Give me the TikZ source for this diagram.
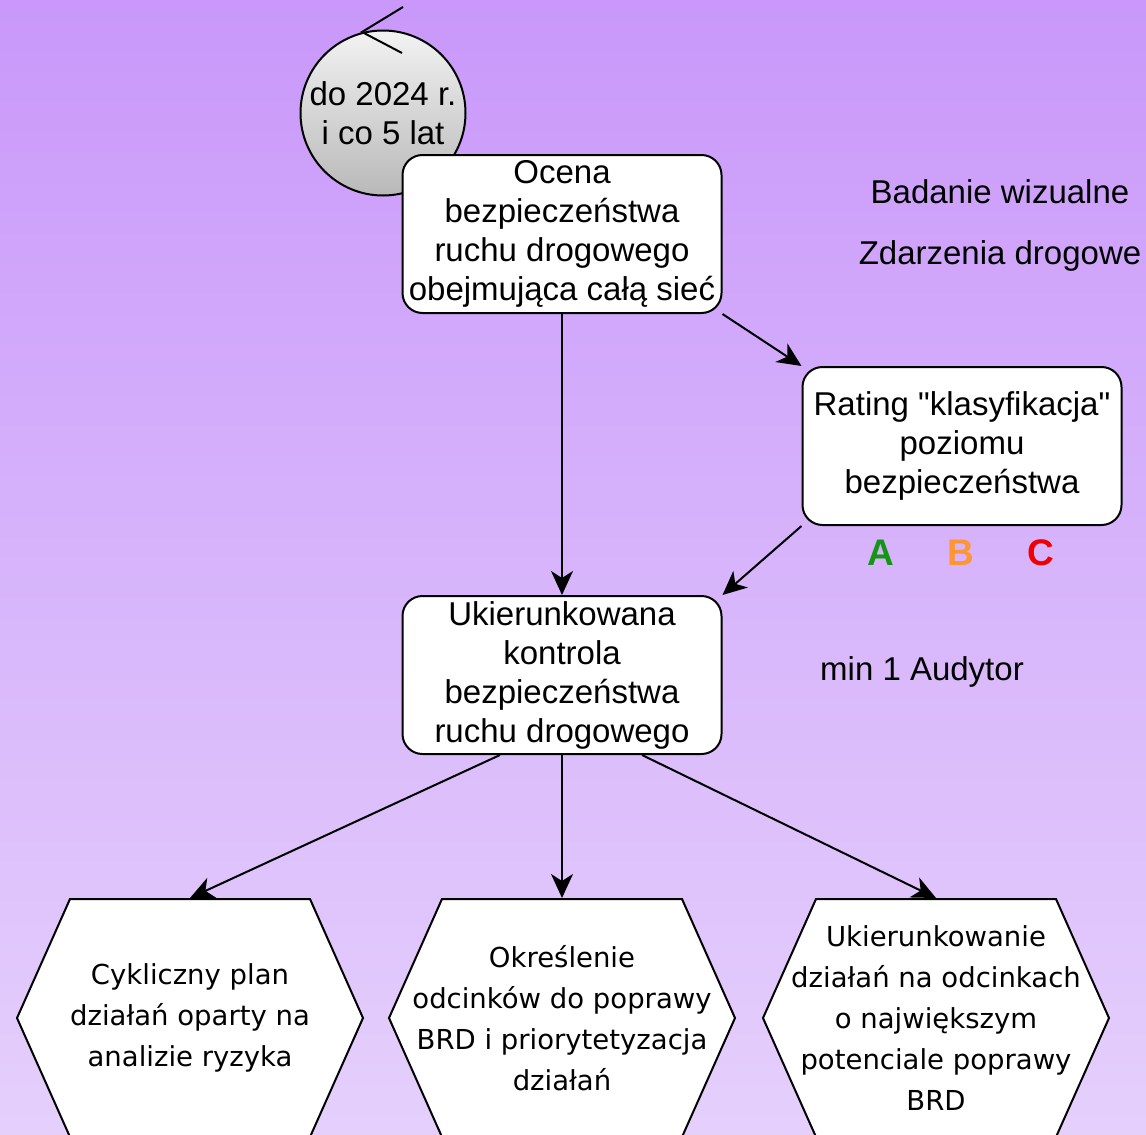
\documentclass[tikz,border=0pt]{standalone}
\usepackage{fontspec}
\setmainfont{Liberation Sans}
\newfontfamily\hexfont{DejaVu Sans}
\usetikzlibrary{arrows.meta,positioning}
\definecolor{bgtop}{RGB}{201,152,250}
\definecolor{bgbottom}{RGB}{229,208,252}
\definecolor{gradeA}{RGB}{20,150,20}
\definecolor{gradeB}{RGB}{255,150,50}
\definecolor{gradeC}{RGB}{240,0,0}

\begin{document}
\begin{tikzpicture}[x=1pt,y=-1pt,node distance=81pt,>={Stealth[length=24pt,width=22pt,inset=7pt]},line width=2pt]
    \tikzstyle{box}=[rectangle,draw,fill=white,rounded corners=20pt,align=center,minimum width=319pt,minimum height=158pt,inner sep=0pt,font=\fontsize{33}{39}\selectfont]
    \tikzstyle{hexbox}=[align=center,minimum width=346pt,minimum height=238pt,inner sep=0pt,font=\hexfont\fontsize{27.5}{41}\selectfont]
    \tikzstyle{note}=[font=\fontsize{33}{39}\selectfont]
    \tikzstyle{grade}=[font=\bfseries\fontsize{37}{40}\selectfont]
    \useasboundingbox (0,0) rectangle (1146,1135);
    \shade[top color=bgtop,bottom color=bgbottom] (0,0) rectangle (1146,1135);
    % cycle marker
    \node[circle,draw,top color=gray!10,bottom color=gray!55,minimum size=165pt,inner sep=0pt,align=center,font=\fontsize{33}{39}\selectfont] (termin) at (383,113) {do 2024 r.\\i co 5 lat};
    \draw ([shift={(20,-106)}]termin.center) -- ++(-41,25) -- ++(40,21);
    \node[box] (ocena) at (562,234) {Ocena\\bezpieczeństwa\\ruchu drogowego\\obejmująca całą sieć};
    \node[box] (rating) at (962,446) {Rating \textquotedbl klasyfikacja\textquotedbl\\poziomu\\bezpieczeństwa};
    \node[box,below=281pt of ocena] (kontrola) {Ukierunkowana\\kontrola\\bezpieczeństwa\\ruchu drogowego};
    \node[note] (wizualne) at (1000,192) {Badanie wizualne};
    \node[note] (zdarzenia) at (1000,256) {Zdarzenia drogowe};
    \node[note] (audytor) at (922,672) {min 1 Audytor};
    \node[grade,text=gradeA] (klasaA) at (881,553) {A};
    \node[grade,text=gradeB] (klasaB) at (961,553) {B};
    \node[grade,text=gradeC] (klasaC) at (1041,553) {C};
    % hexagons
    \foreach \x in {190,562,936}
        \draw[fill=white] (\x-173,1018) -- (\x-120,899) -- (\x+120,899) -- (\x+173,1018) -- (\x+120,1137) -- (\x-120,1137) -- cycle;
    \node[hexbox] (plan) at (190,1018) {Cykliczny plan\\działań oparty na\\analizie ryzyka};
    \node[hexbox] (odcinki) at (562,1018) {Określenie\\odcinków do poprawy\\BRD i priorytetyzacja\\działań};
    \node[hexbox] (potencjal) at (936,1018) {Ukierunkowanie\\działań na odcinkach\\o największym\\potenciale poprawy\\BRD};
    \draw[->] (ocena) -- (kontrola);
    \draw[->] (ocena.south east) -- (rating.north west);
    \draw[->] (rating.south west) -- (kontrola.north east);
    \draw[->] ([xshift=-62pt]kontrola.south) -- (plan.north);
    \draw[->] (kontrola) -- (odcinki);
    \draw[->] ([xshift=80pt]kontrola.south) -- (potencjal.north);
  \end{tikzpicture}
\end{document}
